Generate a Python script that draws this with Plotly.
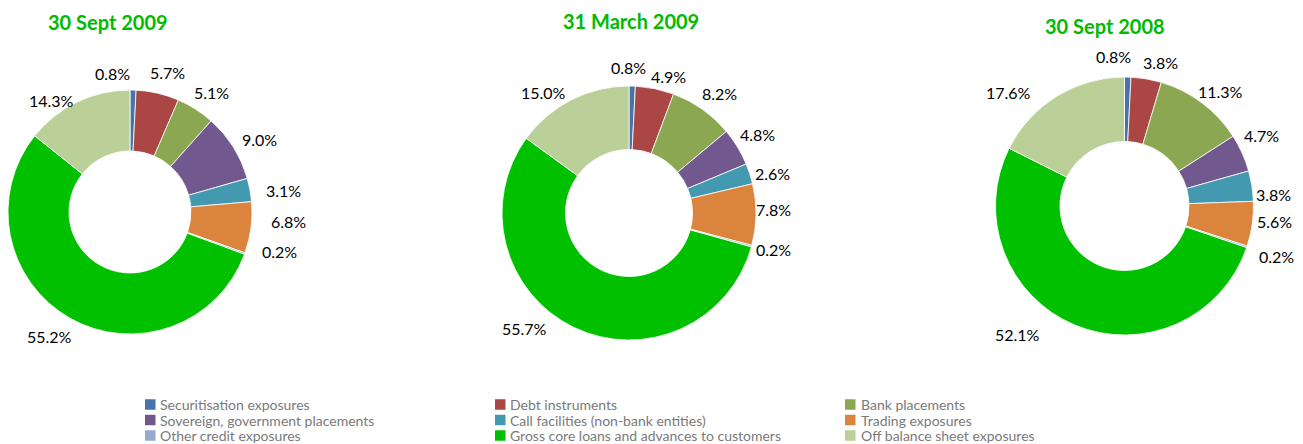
import plotly.graph_objects as go

# ---- data -------------------------------------------------------------
categories = [
    "Securitisation exposures",
    "Debt instruments",
    "Bank placements",
    "Sovereign, government placements",
    "Call facilities (non-bank entities)",
    "Trading exposures",
    "Other credit exposures",
    "Gross core loans and advances to customers",
    "Off balance sheet exposures",
]

titles = ["30 Sept 2009", "31 March 2009", "30 Sept 2008"]

sept_2009 = [0.8, 5.7, 5.1, 9.0, 3.1, 6.8, 0.2, 55.2, 14.3]
march_2009 = [0.8, 4.9, 8.2, 4.8, 2.6, 7.8, 0.2, 55.7, 15.0]
sept_2008 = [0.8, 3.8, 11.3, 4.7, 3.8, 5.6, 0.2, 52.1, 17.6]

# ---- styling / layout -------------------------------------------------
colors = ["#4674AA", "#AA4644", "#8BA751", "#71588F", "#4399B0",
          "#DB843D", "#93A9CF", "#00C000", "#BBCF98"]

W, H = 1303, 444
FONT = "Lato"

# doughnut centre (px from left, px from top) and outer radius (px)
pie_geom = [(130, 212, 122), (629, 213, 127), (1124.5, 206, 129)]
title_pos = [(108, 21.5), (631, 20.5), (1104.5, 25.5)]

# percentage label centres, as px offsets from each doughnut's centre
label_offsets = [
    [(-17.5, -138), (37.5, -139.5), (81, -120), (129.5, -73), (153, -21),
     (158.5, 9.5), (149, 39.5), (-81, 124.5), (-79, -111.5)],
    [(-1, -145.5), (39, -136.5), (90, -119.5), (128, -79), (143, -40),
     (144.5, -3.5), (144, 36), (-105, 115), (-85.5, -121)],
    [(-11, -149.5), (36, -144), (95.5, -115), (137, -71), (149, -11.5),
     (150, 15), (152, 50), (-106.5, 128), (-116.5, -113)],
]

# legend grid: square left edges, text left edges, row centres (px)
legend_sq_x = [145, 495, 845]
legend_txt_x = [158.5, 509, 860]
legend_row_y = [404.5, 420, 435.5]
SQ = 10.5


def px(x):
    return x / W


def py(y):
    return 1 - y / H


fig = go.Figure()
series = [sept_2009, march_2009, sept_2008]
for vals, (cx, cy, r), offs in zip(series, pie_geom, label_offsets):
    fig.add_trace(go.Pie(
        labels=categories,
        values=vals,
        sort=False,
        direction="clockwise",
        rotation=0,
        hole=0.5,
        marker=dict(colors=colors, line=dict(color="white", width=0.8)),
        textinfo="none",
        domain=dict(x=[px(cx - r), px(cx + r)], y=[py(cy + r), py(cy - r)]),
        showlegend=False,
        hoverinfo="label+value",
    ))
    for v, (dx, dy) in zip(vals, offs):
        fig.add_annotation(
            text=f"{v:.1f}%", x=px(cx + dx), y=py(cy + dy),
            xref="paper", yref="paper", xanchor="center", yanchor="middle",
            showarrow=False, font=dict(family=FONT, size=16, color="#000000"),
        )

for t, (tx, ty) in zip(titles, title_pos):
    fig.add_annotation(
        text=f"<b>{t}</b>", x=px(tx), y=py(ty),
        xref="paper", yref="paper", xanchor="center", yanchor="middle",
        showarrow=False, font=dict(family=FONT, size=20, color="#00BB00"),
    )

# three-column legend, filled row by row
for i, (name, col) in enumerate(zip(categories, colors)):
    row, c = divmod(i, 3)
    yc = legend_row_y[row]
    x0 = legend_sq_x[c]
    fig.add_shape(
        type="rect", xref="paper", yref="paper",
        x0=px(x0), x1=px(x0 + SQ), y0=py(yc + SQ / 2), y1=py(yc - SQ / 2),
        fillcolor=col, line=dict(width=0),
    )
    fig.add_annotation(
        text=name, x=px(legend_txt_x[c]), y=py(yc),
        xref="paper", yref="paper", xanchor="left", yanchor="middle",
        showarrow=False, borderpad=0,
        font=dict(family=FONT, size=14, color="#7A7A7A"),
    )

fig.update_layout(
    width=W, height=H,
    margin=dict(l=0, r=0, t=0, b=0),
    paper_bgcolor="white",
    plot_bgcolor="white",
    showlegend=False,
)

fig.write_html("out.html")
